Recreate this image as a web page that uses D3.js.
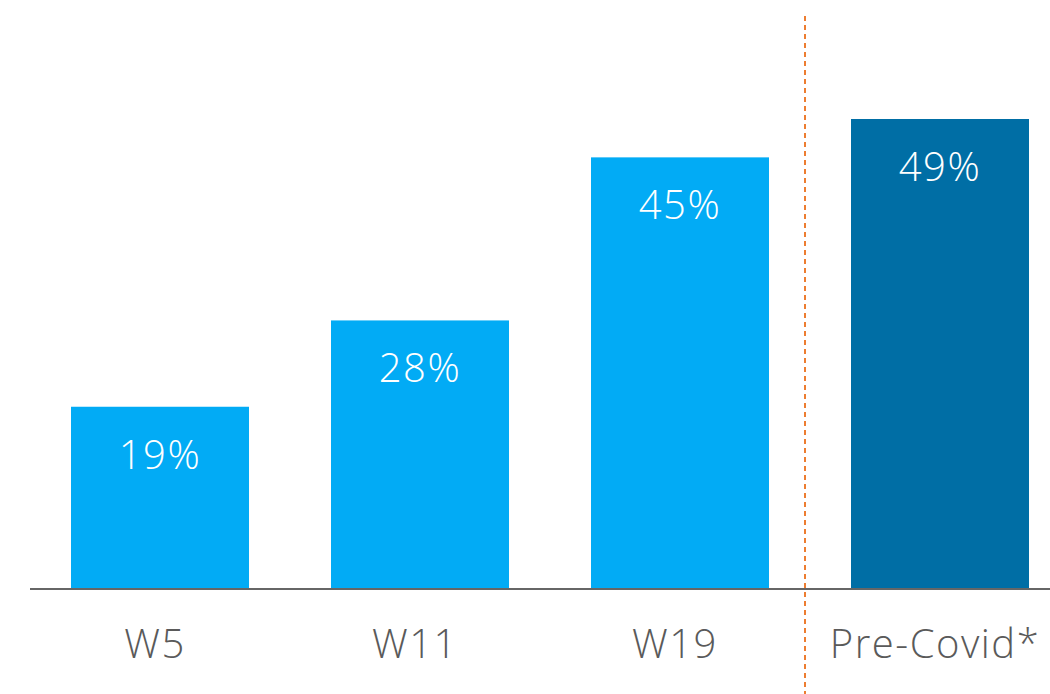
<!DOCTYPE html>
<html>
<head>
<meta charset="utf-8">
<script src="https://cdn.jsdelivr.net/npm/d3@7"></script>
<style>
  html, body { margin: 0; padding: 0; background: #fff; }
  svg { display: block; }
</style>
</head>
<body>
<svg id="chart" width="1050" height="694"></svg>
<script>
// Share of respondents per wave, with the pre-Covid benchmark
const categories = ["W5", "W11", "W19", "Pre-Covid*"];
const values = [19, 28, 45, 49];
const valueLabels = ["19%", "28%", "45%", "49%"];

const W = 1050, H = 694;
const baseY = 589;
const svg = d3.select("#chart");

const x = d3.scaleBand()
  .domain(categories)
  .range([30, 1070])
  .paddingInner(0.3154)
  .paddingOuter(0.1577);

const y = d3.scaleLinear()
  .domain([0, 49])
  .range([baseY, 119]);

const colorFor = c => c === "Pre-Covid*" ? "#006EA5" : "#02ABF5";
const font = "'Open Sans', 'Noto Sans', sans-serif";

// bars
svg.selectAll("rect.bar")
  .data(categories)
  .join("rect")
  .attr("class", "bar")
  .attr("x", d => x(d))
  .attr("width", x.bandwidth())
  .attr("y", (d, i) => y(values[i]))
  .attr("height", (d, i) => baseY - y(values[i]))
  .attr("fill", colorFor);

// value labels inside bars
svg.selectAll("text.val")
  .data(categories)
  .join("text")
  .attr("class", "val")
  .attr("x", d => x(d) + x.bandwidth() / 2)
  .attr("y", (d, i) => y(values[i]) + 62)
  .attr("text-anchor", "middle")
  .attr("fill", "#fff")
  .attr("font-family", font)
  .attr("font-weight", 300)
  .attr("letter-spacing", 1.5)
  .attr("font-size", 40)
  .text((d, i) => valueLabels[i]);

// baseline axis
const axis = d3.axisBottom(x).tickSize(0).tickPadding(0);
const gx = svg.append("g").attr("transform", `translate(0,${baseY})`).call(axis);
gx.select(".domain").attr("d", `M30,0H${W}`).attr("stroke", "#666").attr("stroke-width", 2);
gx.selectAll(".tick text")
  .attr("x", -5)
  .attr("y", 69)
  .attr("dy", 0)
  .attr("fill", "#5a5a5a")
  .attr("font-family", font)
  .attr("font-weight", 300)
  .attr("letter-spacing", 1.5)
  .attr("font-size", 40);

// divider between waves and benchmark
const divX = x("Pre-Covid*") - 46;
svg.append("line")
  .attr("x1", divX).attr("x2", divX)
  .attr("y1", 16).attr("y2", H)
  .attr("stroke", "#ED7D31")
  .attr("stroke-width", 2)
  .attr("stroke-dasharray", "5,4");
</script>
</body>
</html>
